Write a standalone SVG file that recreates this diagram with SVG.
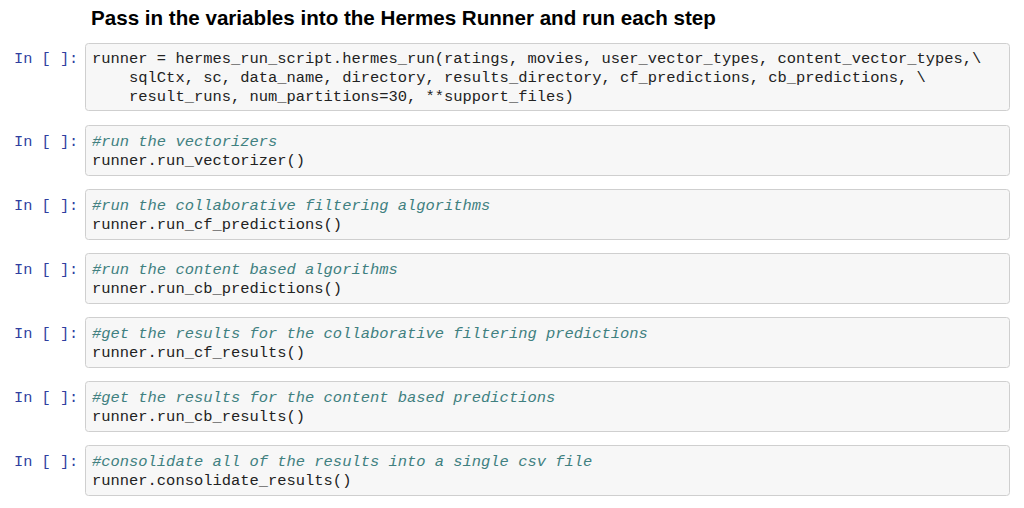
<svg xmlns="http://www.w3.org/2000/svg" width="1024" height="508" viewBox="0 0 1024 508">
<style>
.cell{fill:#f7f7f7;stroke:#cfcfcf;stroke-width:1}
.prompt{font-family:"Liberation Mono","DejaVu Sans Mono",monospace;font-size:15.3px;fill:#303f9f;white-space:pre}
.code{font-family:"Liberation Mono","DejaVu Sans Mono",monospace;font-size:15.45px;fill:#222;white-space:pre}
.cm{fill:#408080;font-style:italic}
.title{font-family:"Liberation Sans",Arial,sans-serif;font-size:20.6px;font-weight:bold;fill:#000}
</style>
<rect width="1024" height="508" fill="#fff"/>
<text class="title" x="91" y="25">Pass in the variables into the Hermes Runner and run each step</text>
<g id="cell1">
<rect class="cell" x="85.5" y="43.5" width="924" height="67" rx="3"/>
<text class="prompt" x="14" y="63">In [ ]:</text>
<text class="code" x="92" y="63">runner = hermes_run_script.hermes_run(ratings, movies, user_vector_types, content_vector_types,\</text>
<text class="code" x="92" y="82">    sqlCtx, sc, data_name, directory, results_directory, cf_predictions, cb_predictions, \</text>
<text class="code" x="92" y="101">    result_runs, num_partitions=30, **support_files)</text>
</g>
<g id="cell2">
<rect class="cell" x="85.5" y="125.5" width="924" height="50" rx="3"/>
<text class="prompt" x="14" y="146">In [ ]:</text>
<text class="code cm" x="92" y="146">#run the vectorizers</text>
<text class="code" x="92" y="165">runner.run_vectorizer()</text>
</g>
<g id="cell3">
<rect class="cell" x="85.5" y="189.5" width="924" height="50" rx="3"/>
<text class="prompt" x="14" y="210">In [ ]:</text>
<text class="code cm" x="92" y="210">#run the collaborative filtering algorithms</text>
<text class="code" x="92" y="229">runner.run_cf_predictions()</text>
</g>
<g id="cell4">
<rect class="cell" x="85.5" y="253.5" width="924" height="50" rx="3"/>
<text class="prompt" x="14" y="274">In [ ]:</text>
<text class="code cm" x="92" y="274">#run the content based algorithms</text>
<text class="code" x="92" y="293">runner.run_cb_predictions()</text>
</g>
<g id="cell5">
<rect class="cell" x="85.5" y="317.5" width="924" height="50" rx="3"/>
<text class="prompt" x="14" y="338">In [ ]:</text>
<text class="code cm" x="92" y="338">#get the results for the collaborative filtering predictions</text>
<text class="code" x="92" y="357">runner.run_cf_results()</text>
</g>
<g id="cell6">
<rect class="cell" x="85.5" y="381.5" width="924" height="50" rx="3"/>
<text class="prompt" x="14" y="402">In [ ]:</text>
<text class="code cm" x="92" y="402">#get the results for the content based predictions</text>
<text class="code" x="92" y="421">runner.run_cb_results()</text>
</g>
<g id="cell7">
<rect class="cell" x="85.5" y="445.5" width="924" height="50" rx="3"/>
<text class="prompt" x="14" y="466">In [ ]:</text>
<text class="code cm" x="92" y="466">#consolidate all of the results into a single csv file</text>
<text class="code" x="92" y="485">runner.consolidate_results()</text>
</g>
<g id="connectors"/>
</svg>
